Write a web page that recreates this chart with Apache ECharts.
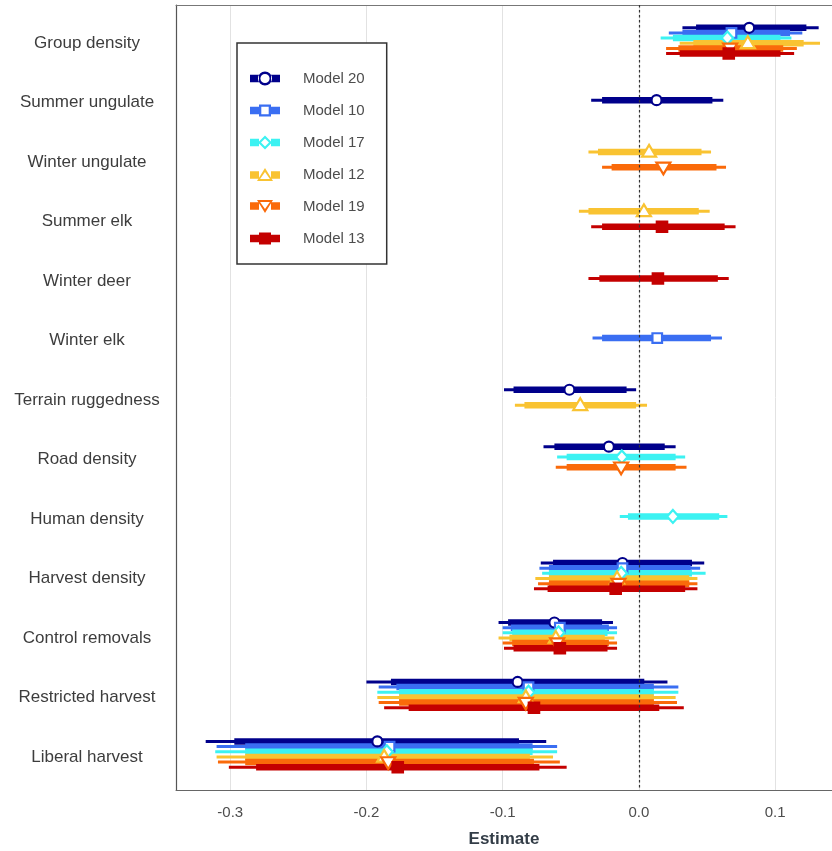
<!DOCTYPE html>
<html><head><meta charset="utf-8">
<script src="https://cdn.jsdelivr.net/npm/echarts@6/dist/echarts.min.js"></script>
<style>html,body{margin:0;padding:0;background:#fff;overflow:hidden}#c{width:832px;height:851px}</style>
</head><body><div id="c"></div>
<script>
const categories = ['Group density','Summer ungulate','Winter ungulate','Summer elk','Winter deer','Winter elk','Terrain ruggedness','Road density','Human density','Harvest density','Control removals','Restricted harvest','Liberal harvest'];
const modelNames = ['Model 20','Model 10','Model 17','Model 12','Model 19','Model 13'];
const xTicks = [-0.3,-0.2,-0.1,0,0.1];

// Model 20
const m20Est  = [0.081, 0.013, null, null, null, null, -0.051, -0.022, null, -0.012, -0.062, -0.089, -0.192];
const m20Lo95 = [0.032,-0.035, null, null, null, null, -0.099, -0.070, null, -0.072, -0.103, -0.200, -0.318];
const m20Hi95 = [0.132, 0.062, null, null, null, null, -0.002,  0.027, null,  0.048, -0.019,  0.021, -0.068];
const m20Lo80 = [0.042,-0.027, null, null, null, null, -0.092, -0.062, null, -0.063, -0.096, -0.182, -0.297];
const m20Hi80 = [0.123, 0.054, null, null, null, null, -0.009,  0.019, null,  0.039, -0.027,  0.004, -0.088];
// Model 10
const m10Est  = [0.068, null, null, null, null, 0.0135, null, null, null, -0.012, -0.058, -0.081, -0.183];
const m10Lo95 = [0.022, null, null, null, null,-0.034, null, null, null, -0.073, -0.100, -0.191, -0.310];
const m10Hi95 = [0.120, null, null, null, null, 0.061, null, null, null,  0.045, -0.016,  0.029, -0.060];
const m10Lo80 = [0.032, null, null, null, null,-0.027, null, null, null, -0.066, -0.094, -0.178, -0.289];
const m10Hi80 = [0.111, null, null, null, null, 0.053, null, null, null,  0.038, -0.022,  0.011, -0.078];
// Model 17
const m17Est  = [0.065, null, null, null, null, null, null, -0.0125, 0.025, -0.013, -0.059, -0.081, -0.185];
const m17Lo95 = [0.016, null, null, null, null, null, null, -0.060, -0.014, -0.071, -0.100, -0.192, -0.311];
const m17Hi95 = [0.112, null, null, null, null, null, null,  0.034,  0.065,  0.049, -0.016,  0.029, -0.060];
const m17Lo80 = [0.025, null, null, null, null, null, null, -0.053, -0.008, -0.066, -0.093, -0.176, -0.289];
const m17Hi80 = [0.104, null, null, null, null, null, null,  0.027,  0.059,  0.039, -0.023,  0.011, -0.078];
// Model 12
const m12Est  = [0.080, null, 0.0075, 0.0037, null, null, -0.043, null, null, -0.016, -0.061, -0.083, -0.187];
const m12Lo95 = [0.030, null,-0.037, -0.044, null, null, -0.091, null, null, -0.076, -0.103, -0.192, -0.310];
const m12Hi95 = [0.133, null, 0.053,  0.052, null, null,  0.006, null, null,  0.043, -0.018,  0.027, -0.063];
const m12Lo80 = [0.040, null,-0.030, -0.037, null, null, -0.084, null, null, -0.066, -0.095, -0.176, -0.289];
const m12Hi80 = [0.121, null, 0.046,  0.044, null, null, -0.002, null, null,  0.037, -0.025,  0.011, -0.080];
// Model 19
const m19Est  = [0.067, null, 0.018, null, null, null, null, -0.013, null, -0.015, -0.060, -0.083, -0.184];
const m19Lo95 = [0.020, null,-0.027, null, null, null, null, -0.061, null, -0.074, -0.100, -0.191, -0.309];
const m19Hi95 = [0.116, null, 0.064, null, null, null, null,  0.035, null,  0.043, -0.016,  0.028, -0.058];
const m19Lo80 = [0.029, null,-0.020, null, null, null, null, -0.053, null, -0.066, -0.093, -0.176, -0.289];
const m19Hi80 = [0.106, null, 0.057, null, null, null, null,  0.027, null,  0.037, -0.022,  0.011, -0.077];
// Model 13
const m13Est  = [0.066, null, null, 0.017, 0.014, null, null, null, null, -0.017, -0.058, -0.077, -0.177];
const m13Lo95 = [0.020, null, null,-0.035,-0.037, null, null, null, null, -0.077, -0.099, -0.187, -0.301];
const m13Hi95 = [0.114, null, null, 0.071, 0.066, null, null, null, null,  0.043, -0.016,  0.033, -0.053];
const m13Lo80 = [0.030, null, null,-0.027,-0.029, null, null, null, null, -0.067, -0.092, -0.169, -0.281];
const m13Hi80 = [0.104, null, null, 0.063, 0.058, null, null, null, null,  0.034, -0.023,  0.015, -0.073];

const colors = ['#00008B','#3A6EF2','#3CF2F2','#F9C332','#FA6A0A','#C40000'];
const markers = ['circle','square','diamond','triangle','triangleDown','filledSquare'];
const bars = 'M0 3.3H9V10.7H0Z M21 3.3H30V10.7H21Z ';
const icons = [
  'path://' + bars + 'M8 7A7 7 0 1 0 22 7A7 7 0 1 0 8 7Z M10.4 7A4.6 4.6 0 1 1 19.6 7A4.6 4.6 0 1 1 10.4 7Z',
  'path://' + bars + 'M9 1H21V13H9Z M11.3 3.3V10.7H18.7V3.3Z',
  'path://' + bars + 'M15 0L22 7L15 14L8 7Z M15 3L11 7L15 11L19 7Z',
  'path://' + bars + 'M15 0L23 13L7 13Z M15 4L10.1 11L19.9 11Z',
  'path://' + bars + 'M7 1L23 1L15 14Z M10.1 3L15 10L19.9 3Z',
  'path://' + bars + 'M9 1H21V13H9Z'
];

const modelData = [
  [m20Est,m20Lo95,m20Hi95,m20Lo80,m20Hi80],
  [m10Est,m10Lo95,m10Hi95,m10Lo80,m10Hi80],
  [m17Est,m17Lo95,m17Hi95,m17Lo80,m17Hi80],
  [m12Est,m12Lo95,m12Hi95,m12Lo80,m12Hi80],
  [m19Est,m19Lo95,m19Hi95,m19Lo80,m19Hi80],
  [m13Est,m13Lo95,m13Hi95,m13Lo80,m13Hi80]
];

const DODGE = 0.52;
const seriesData = modelData.map(() => []);
categories.forEach((cat, c) => {
  const present = [];
  modelData.forEach((m, i) => { if (m[0][c] != null) present.push(i); });
  const n = present.length;
  present.forEach((i, rank) => {
    const y = c + (rank - (n - 1) / 2) * DODGE / n;
    const m = modelData[i];
    seriesData[i].push([y, m[0][c], m[1][c], m[2][c], m[3][c], m[4][c]]);
  });
});

function renderLines(color) {
  return function (params, api) {
    const y = api.value(0);
    const a = api.coord([api.value(2), y]), b = api.coord([api.value(3), y]);
    const c = api.coord([api.value(4), y]), d = api.coord([api.value(5), y]);
    return { type: 'group', children: [
      { type: 'line', shape: { x1: a[0], y1: a[1], x2: b[0], y2: b[1] }, style: { stroke: color, lineWidth: 3 } },
      { type: 'line', shape: { x1: c[0], y1: c[1], x2: d[0], y2: d[1] }, style: { stroke: color, lineWidth: 6.5 } }
    ]};
  };
}
function renderMarker(color, kind) {
  return function (params, api) {
    const p = api.coord([api.value(1), api.value(0)]);
    const x = p[0], y = p[1];
    const st = { fill: kind === 'filledSquare' ? color : '#fff', stroke: color, lineWidth: 2.2 };
    switch (kind) {
      case 'circle': return { type: 'circle', shape: { cx: x, cy: y, r: 5 }, style: st };
      case 'square': return { type: 'rect', shape: { x: x - 4.8, y: y - 4.8, width: 9.6, height: 9.6 }, style: st };
      case 'filledSquare': return { type: 'rect', shape: { x: x - 5.2, y: y - 5.2, width: 10.4, height: 10.4 }, style: st };
      case 'diamond': return { type: 'polygon', shape: { points: [[x, y - 6.5], [x + 5.8, y], [x, y + 6.5], [x - 5.8, y]] }, style: st };
      case 'triangle': return { type: 'polygon', shape: { points: [[x, y - 7], [x + 7, y + 4.8], [x - 7, y + 4.8]] }, style: st };
      case 'triangleDown': return { type: 'polygon', shape: { points: [[x, y + 7], [x + 7, y - 4.8], [x - 7, y - 4.8]] }, style: st };
    }
  };
}

const FONT = "'Liberation Sans', Arial, sans-serif";
const series = [];
modelNames.forEach((name, i) => {
  const s = {
    type: 'custom', name: name, z: 2,
    itemStyle: { color: colors[i] },
    encode: { x: [1, 2, 3, 4, 5], y: 0 },
    renderItem: renderLines(colors[i]),
    data: seriesData[i]
  };
  if (i === 0) {
    s.markLine = {
      silent: true, symbol: ['none', 'none'], z: 10,
      label: { show: false },
      lineStyle: { color: '#333', type: [2.5, 2.5], width: 1.2 },
      data: [{ xAxis: 0 }]
    };
  }
  series.push(s);
});
modelNames.forEach((name, i) => {
  series.push({
    type: 'custom', name: name, z: 3,
    itemStyle: { color: colors[i] },
    encode: { x: 1, y: 0 },
    renderItem: renderMarker(colors[i], markers[i]),
    data: seriesData[i]
  });
});

const X_MIN = -0.3398, X_MAX = 0.1418;
const chart = echarts.init(document.getElementById('c'), null, { renderer: 'canvas' });
chart.setOption({
  animation: false,
  backgroundColor: '#fff',
  grid: { left: 176, right: 0, top: 5, bottom: 61, containLabel: false, outerBoundsMode: 'none' },
  xAxis: [{
    type: 'value', min: X_MIN, max: X_MAX, position: 'bottom',
    name: 'Estimate', nameLocation: 'middle', nameGap: 41,
    nameTextStyle: { fontSize: 17, fontWeight: 'bold', color: '#333d47', fontFamily: FONT },
    axisLine: { show: true, onZero: false, lineStyle: { color: '#666', width: 1 } },
    axisTick: { show: false, customValues: xTicks },
    axisLabel: { customValues: xTicks, formatter: v => v.toFixed(1), fontSize: 15, color: '#4d4d4d', margin: 15, fontFamily: FONT },
    splitLine: { show: true, lineStyle: { color: '#e2e2e2', width: 1 } }
  }, {
    type: 'value', min: X_MIN, max: X_MAX, position: 'top',
    axisLine: { show: true, onZero: false, lineStyle: { color: '#777', width: 1 } },
    axisTick: { show: false }, axisLabel: { show: false }, splitLine: { show: false }
  }],
  yAxis: {
    type: 'value', min: -0.6, max: 12.6, inverse: true,
    axisLine: { show: true, onZero: false, lineStyle: { color: '#555', width: 1.2 } },
    axisTick: { show: false, customValues: categories.map((c, i) => i) },
    axisLabel: { customValues: categories.map((c, i) => i), formatter: v => categories[Math.round(v)] || '', fontSize: 17, color: '#3d3d3d', margin: 89, align: 'center', verticalAlign: 'top', lineHeight: 17, padding: [-6, 0, 0, 0], fontFamily: FONT },
    splitLine: { show: false }
  },
  legend: {
    orient: 'vertical', left: 237, top: 43,
    data: modelNames.map((n, i) => ({ name: n, icon: icons[i], itemStyle: { color: colors[i], borderWidth: 0 } })),
    itemWidth: 30, itemHeight: 14, itemGap: 17,
    padding: [28, 22, 18, 13],
    borderColor: '#333', borderWidth: 1.5, backgroundColor: '#fff',
    textStyle: { fontSize: 15, color: '#4d4d4d', fontFamily: FONT, padding: [0, 0, 0, 18] },
    selectedMode: false
  },
  series: series
});
</script></body></html>
